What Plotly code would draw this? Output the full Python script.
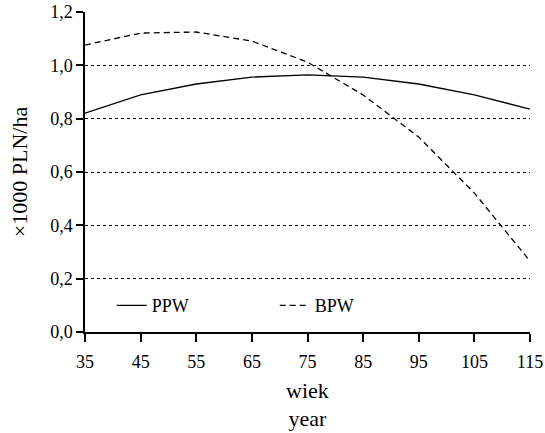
import plotly.graph_objects as go

age = [35, 45, 55, 65, 75, 85, 95, 105, 115]
ppw = [0.821, 0.889, 0.930, 0.956, 0.964, 0.956, 0.930, 0.889, 0.836]
bpw = [1.076, 1.121, 1.125, 1.091, 1.012, 0.889, 0.731, 0.521, 0.266]
yticks = [0.0, 0.2, 0.4, 0.6, 0.8, 1.0, 1.2]
ytick_labels = ["0,0", "0,2", "0,4", "0,6", "0,8", "1,0", "1,2"]
xticks = [35, 45, 55, 65, 75, 85, 95, 105, 115]

font = dict(family="Liberation Serif, Times New Roman, serif", size=18, color="black")

fig = go.Figure()
fig.add_trace(go.Scatter(x=age, y=ppw, mode="lines", name="PPW",
                         line=dict(color="black", width=1.3)))
fig.add_trace(go.Scatter(x=age, y=bpw, mode="lines", name="BPW",
                         line=dict(color="black", width=1.3, dash="6px,4px")))

fig.update_layout(
    width=545, height=433,
    margin=dict(l=85, r=15, t=12, b=101),
    paper_bgcolor="white", plot_bgcolor="white",
    font=font,
    showlegend=True,
    legend=dict(orientation="h", x=0.06, y=0.14, xanchor="left", yanchor="top",
                bgcolor="rgba(0,0,0,0)", entrywidth=118, entrywidthmode="pixels",
                font=font),
    xaxis=dict(range=[35, 115], tickvals=xticks, showgrid=False, automargin=False,
               showline=True, linecolor="black", linewidth=1.5,
               ticks="outside", ticklen=8, tickcolor="black", tickwidth=1.5,
               ticklabelstandoff=5,
               title=dict(text="wiek<br>year", standoff=11), zeroline=False,
               tickfont=font),
    yaxis=dict(range=[0, 1.2], tickvals=yticks, ticktext=ytick_labels, automargin=False,
               showgrid=True, gridcolor="black", gridwidth=1.2, griddash="dot",
               showline=True, linecolor="black", linewidth=1.5,
               ticks="outside", ticklen=7, tickcolor="black", tickwidth=1.5,
               title=dict(text="×1000 PLN/ha", standoff=16), zeroline=False,
               tickfont=font),
)

fig.write_html("out.html")
